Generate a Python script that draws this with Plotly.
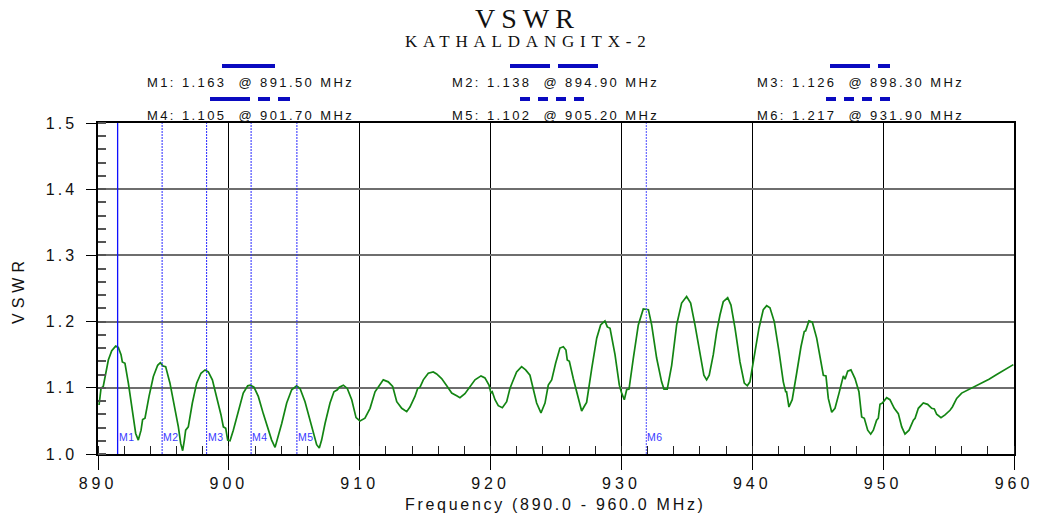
import plotly.graph_objects as go

# ---------------- data ----------------
freq_mhz = [
    890.08, 890.23, 890.40, 890.79, 891.05, 891.35, 891.55, 891.76, 891.86, 892.06,
    892.32, 892.62, 892.88, 893.08, 893.29, 893.41, 893.59, 893.90, 894.23, 894.56,
    894.76, 894.97, 895.17, 895.50, 895.88, 896.14, 896.32, 896.47, 896.60, 896.70,
    896.90, 897.21, 897.54, 897.87, 898.18, 898.43, 898.74, 899.07, 899.40, 899.58,
    899.76, 899.91, 900.09, 900.34, 900.72, 901.10, 901.44, 901.64, 901.92, 902.25,
    902.63, 903.02, 903.27, 903.53, 903.70, 904.04, 904.42, 904.80, 905.18, 905.44,
    905.82, 906.20, 906.51, 906.71, 906.91, 907.09, 907.35, 907.73, 908.03, 908.19,
    908.29, 908.44, 908.75, 909.05, 909.39, 909.72, 910.02, 910.40, 910.79, 911.17,
    911.42, 911.80, 912.18, 912.52, 912.83, 913.21, 913.59, 913.84, 914.22, 914.43,
    914.61, 914.86, 915.24, 915.62, 915.88, 916.26, 916.65, 917.03, 917.41, 917.66,
    918.04, 918.43, 918.81, 919.27, 919.57, 919.88, 920.03, 920.13, 920.34, 920.59,
    920.90, 921.23, 921.48, 921.66, 921.99, 922.37, 922.68, 923.01, 923.26, 923.52,
    923.85, 924.16, 924.41, 924.67, 924.97, 925.30, 925.56, 925.76, 925.86, 926.02,
    926.32, 926.70, 926.96, 927.22, 927.34, 927.73, 928.11, 928.41, 928.74, 928.92,
    929.13, 929.51, 929.84, 930.02, 930.22, 930.40, 930.58, 930.91, 931.29, 931.67,
    931.88, 932.06, 932.31, 932.69, 933.07, 933.25, 933.50, 933.84, 934.22, 934.60,
    934.98, 935.29, 935.62, 936.00, 936.30, 936.51, 936.71, 937.02, 937.28, 937.53,
    937.78, 938.12, 938.37, 938.68, 939.06, 939.39, 939.62, 939.82, 940.15, 940.51,
    940.84, 941.10, 941.35, 941.68, 942.04, 942.37, 942.55, 942.62, 942.80, 943.05,
    943.39, 943.72, 943.97, 944.08, 944.33, 944.59, 944.92, 945.25, 945.43, 945.63,
    945.81, 946.07, 946.32, 946.63, 946.83, 946.96, 947.09, 947.29, 947.54, 947.85,
    948.15, 948.36, 948.56, 948.82, 949.05, 949.25, 949.50, 949.63, 949.76, 949.94,
    950.27, 950.52, 950.85, 951.03, 951.16, 951.42, 951.67, 951.98, 952.31, 952.44,
    952.69, 953.07, 953.40, 953.71, 953.91, 954.09, 954.42, 954.73, 955.11, 955.29,
    955.62, 956.00, 956.51, 957.02, 957.66, 958.09, 958.68, 959.31, 959.95,
]
vswr = [
    1.074, 1.099, 1.102, 1.142, 1.156, 1.163, 1.161, 1.150, 1.139, 1.137,
    1.107, 1.066, 1.031, 1.021, 1.036, 1.052, 1.054, 1.087, 1.117, 1.134,
    1.138, 1.133, 1.132, 1.107, 1.071, 1.041, 1.016, 1.005, 1.021, 1.036,
    1.041, 1.077, 1.107, 1.122, 1.127, 1.124, 1.112, 1.087, 1.059, 1.041,
    1.039, 1.021, 1.020, 1.036, 1.066, 1.092, 1.103, 1.104, 1.101, 1.087,
    1.061, 1.036, 1.021, 1.010, 1.021, 1.046, 1.077, 1.097, 1.103, 1.099,
    1.079, 1.051, 1.026, 1.014, 1.009, 1.021, 1.046, 1.077, 1.094, 1.096,
    1.097, 1.101, 1.104, 1.099, 1.082, 1.055, 1.050, 1.054, 1.069, 1.094,
    1.102, 1.112, 1.109, 1.102, 1.079, 1.069, 1.064, 1.071, 1.087, 1.099,
    1.101, 1.112, 1.122, 1.124, 1.121, 1.114, 1.103, 1.092, 1.088, 1.085,
    1.091, 1.102, 1.112, 1.118, 1.115, 1.104, 1.092, 1.094, 1.082, 1.073,
    1.070, 1.079, 1.099, 1.108, 1.124, 1.132, 1.127, 1.119, 1.097, 1.077,
    1.062, 1.077, 1.104, 1.112, 1.137, 1.160, 1.162, 1.157, 1.142, 1.140,
    1.114, 1.082, 1.065, 1.074, 1.078, 1.129, 1.175, 1.195, 1.201, 1.192,
    1.190, 1.150, 1.104, 1.092, 1.082, 1.097, 1.098, 1.145, 1.195, 1.219,
    1.219, 1.218, 1.195, 1.145, 1.109, 1.098, 1.098, 1.134, 1.195, 1.228,
    1.238, 1.228, 1.195, 1.150, 1.119, 1.112, 1.119, 1.150, 1.185, 1.210,
    1.230, 1.236, 1.225, 1.190, 1.139, 1.107, 1.103, 1.109, 1.145, 1.190,
    1.218, 1.224, 1.221, 1.200, 1.155, 1.109, 1.094, 1.094, 1.071, 1.082,
    1.122, 1.162, 1.185, 1.186, 1.201, 1.199, 1.175, 1.142, 1.119, 1.118,
    1.084, 1.063, 1.069, 1.092, 1.109, 1.118, 1.113, 1.125, 1.127, 1.114,
    1.094, 1.056, 1.054, 1.036, 1.030, 1.036, 1.051, 1.054, 1.075, 1.077,
    1.085, 1.082, 1.069, 1.064, 1.061, 1.041, 1.030, 1.036, 1.051, 1.054,
    1.069, 1.077, 1.075, 1.069, 1.068, 1.060, 1.055, 1.059, 1.066, 1.071,
    1.084, 1.092, 1.097, 1.102, 1.109, 1.113, 1.120, 1.128, 1.135,
]

marker_names = ["M1", "M2", "M3", "M4", "M5", "M6"]
marker_freqs = [891.50, 894.90, 898.30, 901.70, 905.20, 931.90]
marker_vals = [1.163, 1.138, 1.126, 1.105, 1.102, 1.217]

x_ticks = [890, 900, 910, 920, 930, 940, 950, 960]
y_ticks = [1.0, 1.1, 1.2, 1.3, 1.4, 1.5]

title_text = "VSWR"
subtitle_text = "KATHALDANGITX-2"
x_title = "Frequency (890.0 - 960.0 MHz)"
y_title = "VSWR"

# ---------------- layout helpers ----------------
W, H = 1037, 517
L, R, T, B = 98, 1014, 123, 454


def px_x(p):
    return (p - L) / (R - L)


def px_y(p):
    return (B - p) / (B - T)


def spaced(s, sp):
    return f'<span style="letter-spacing:{sp}px">{s}</span>'


SANS = "Liberation Sans, Arial, sans-serif"
SERIF = "Liberation Serif, Times New Roman, serif"

fig = go.Figure()
fig.add_trace(go.Scatter(
    x=freq_mhz, y=vswr, mode="lines",
    line=dict(color="#138513", width=1.7),
    hoverinfo="x+y", showlegend=False,
))

shapes = []
annotations = []

# marker vertical lines + labels
marker_dash = ["solid", "2px,1px", "2px,1px", "2px,1px", "2px,1px", "2px,1px"]
marker_col = ["#0f0fff", "#2828ff", "#2828ff", "#2828ff", "#2828ff", "#4a4aff"]
marker_w = [1.3, 1, 1, 1, 1, 1]
for i, (nm, fq) in enumerate(zip(marker_names, marker_freqs)):
    shapes.append(dict(type="line", xref="x", yref="paper", x0=fq, x1=fq, y0=0, y1=1,
                       line=dict(color=marker_col[i], width=marker_w[i], dash=marker_dash[i]), layer="above"))
    annotations.append(dict(x=fq, y=px_y(437), xref="x", yref="paper", text=spaced(nm, 0.6),
                            showarrow=False, xanchor="left", yanchor="middle", xshift=-1,
                            font=dict(family=SANS, size=10.5, color="#3a3aff")))

# marker readout legend (text + line-style sample)
legend_cx = [250, 555, 860, 250, 555, 860]
legend_ty = [82, 82, 82, 115, 115, 115]
sample_x = [(222, 275), (510, 598), (830, 890), (210, 290), (520, 586), (826, 892)]
sample_dash = ["solid", "40px,8px", "40px,8px,12px,8px", "40px,8px,12px,8px,12px,8px",
               "10px,8px", "10px,8px"]
for i in range(6):
    txt = f"{marker_names[i]}: {marker_vals[i]:.3f}  @ {marker_freqs[i]:.2f} MHz"
    annotations.append(dict(x=px_x(legend_cx[i]), y=px_y(legend_ty[i]), xref="paper", yref="paper",
                            text=spaced(txt, 2.4), showarrow=False, xanchor="center", yanchor="middle",
                            font=dict(family=SANS, size=13, color="#111111")))
    sy = legend_ty[i] - 16
    shapes.append(dict(type="line", xref="paper", yref="paper",
                       x0=px_x(sample_x[i][0]), x1=px_x(sample_x[i][1]), y0=px_y(sy), y1=px_y(sy),
                       line=dict(color="#0a0ac0", width=4, dash=sample_dash[i])))

# titles
annotations.append(dict(x=px_x(527), y=px_y(18), xref="paper", yref="paper", text=spaced(title_text, 6),
                        showarrow=False, xanchor="center", yanchor="middle",
                        font=dict(family=SERIF, size=28, color="#111111")))
annotations.append(dict(x=px_x(528), y=px_y(42), xref="paper", yref="paper", text=spaced(subtitle_text, 5.8),
                        showarrow=False, xanchor="center", yanchor="middle",
                        font=dict(family=SERIF, size=17, color="#111111")))
annotations.append(dict(x=px_x(555), y=px_y(504), xref="paper", yref="paper", text=spaced(x_title, 2.7),
                        showarrow=False, xanchor="center", yanchor="middle",
                        font=dict(family=SANS, size=16, color="#111111")))
annotations.append(dict(x=px_x(18), y=px_y(290), xref="paper", yref="paper", text=spaced(y_title, 5),
                        showarrow=False, xanchor="center", yanchor="middle", textangle=-90,
                        font=dict(family=SANS, size=16, color="#111111")))

fig.update_layout(
    width=W, height=H,
    margin=dict(l=L, r=W - R, t=T, b=H - B, pad=0, autoexpand=False),
    paper_bgcolor="white", plot_bgcolor="white",
    shapes=shapes, annotations=annotations,
    showlegend=False,
)

fig.update_xaxes(
    range=[890, 960], tickvals=x_ticks, ticktext=[spaced(str(v), 4) for v in x_ticks],
    tickfont=dict(family=SANS, size=16, color="#111111"), automargin=False,
    ticks="outside", ticklen=14, tickcolor="black", tickwidth=1,
    showgrid=True, gridcolor="black", gridwidth=1,
    showline=True, linecolor="black", linewidth=1.5, mirror=True,
    zeroline=False,
    minor=dict(ticks="inside", dtick=2, tick0=890, ticklen=8, tickcolor="#222222", tickwidth=1, showgrid=False),
)
fig.update_yaxes(
    range=[1.0, 1.5], tickvals=y_ticks, ticktext=[spaced(f"{v:.1f}", 3) for v in y_ticks],
    tickfont=dict(family=SANS, size=16, color="#111111"), automargin=False,
    ticks="outside", ticklen=10, tickcolor="black", tickwidth=1, ticklabelstandoff=6,
    showgrid=True, gridcolor="#6e6e6e", gridwidth=1.5,
    showline=True, linecolor="black", linewidth=1.5, mirror=True,
    zeroline=False,
    minor=dict(ticks="inside", dtick=0.02, tick0=1.0, ticklen=8, tickcolor="#555555", tickwidth=1.5, showgrid=False),
)

fig.write_html("out.html")
